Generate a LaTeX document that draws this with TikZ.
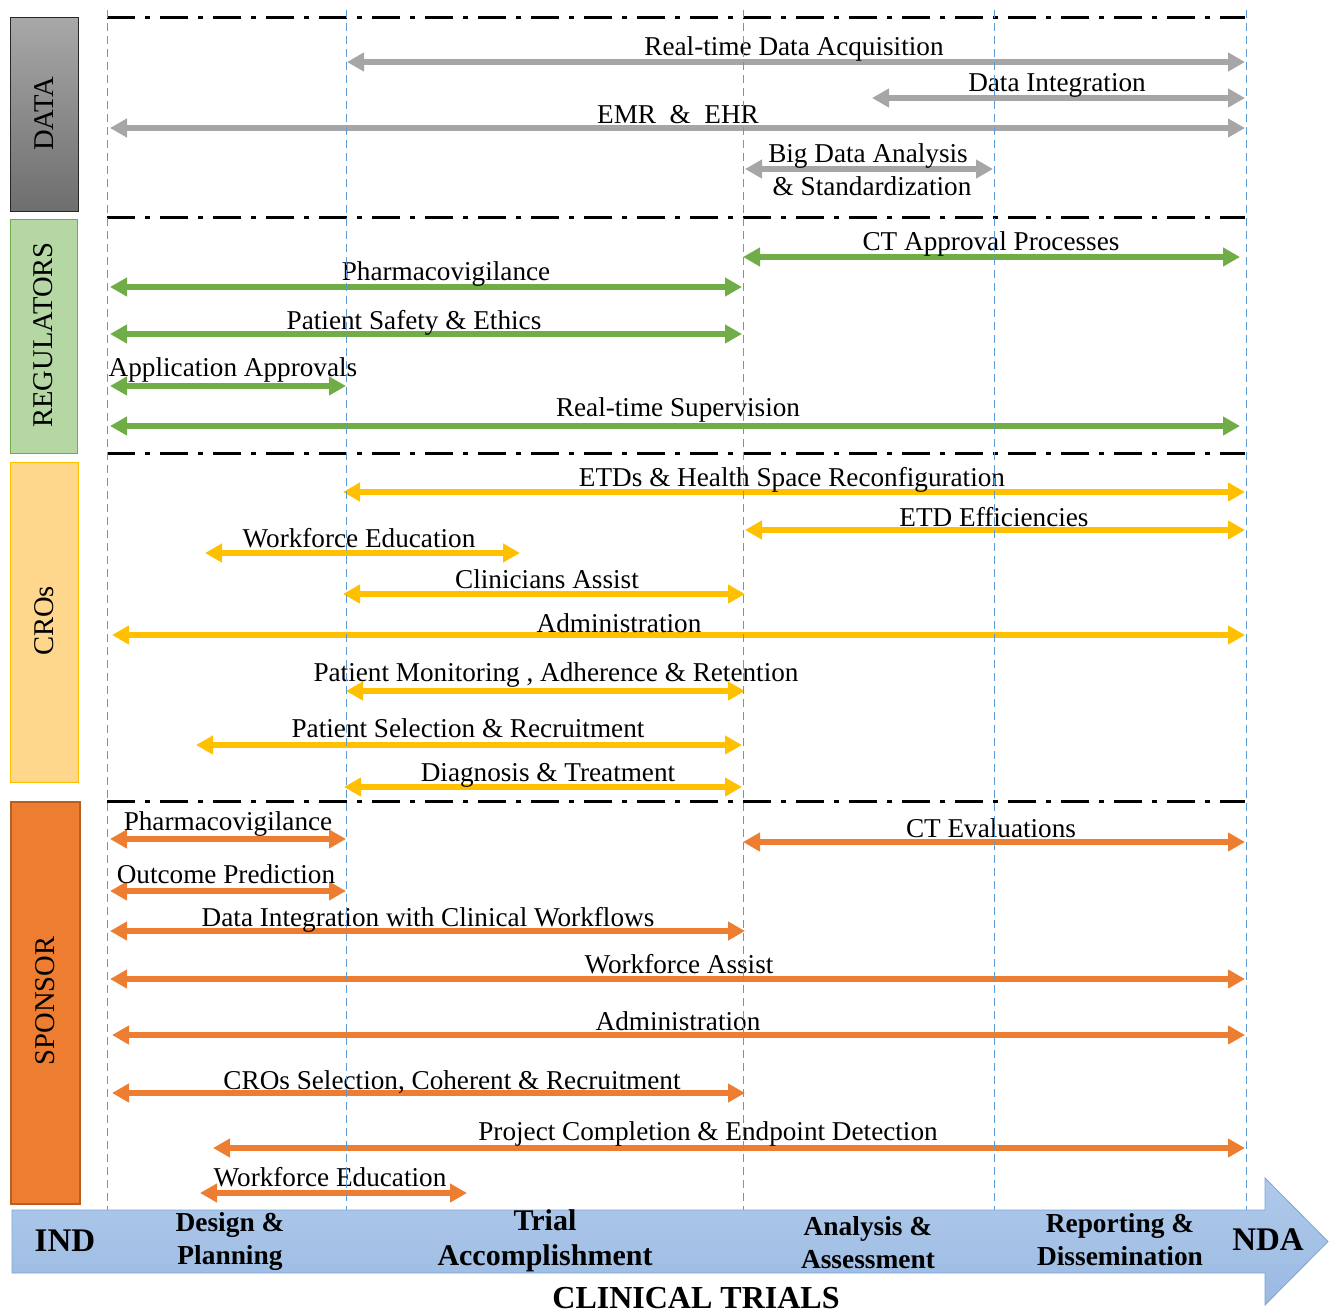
\documentclass[tikz,border=0pt]{standalone}
\usepackage{fontspec}
\setmainfont{Liberation Serif}
\usetikzlibrary{arrows.meta}

\definecolor{datagray}{HTML}{A6A6A6}
\definecolor{datatop}{HTML}{A8A8A8}
\definecolor{databot}{HTML}{6E6E6E}
\definecolor{reggreen}{HTML}{70AD47}
\definecolor{regfill}{HTML}{B5D7A3}
\definecolor{croyellow}{HTML}{FFC000}
\definecolor{crofill}{HTML}{FED68C}
\definecolor{sponorange}{HTML}{ED7D31}
\definecolor{sponedge}{HTML}{B75E22}
\definecolor{phaseblue}{HTML}{5B9BD5}
\definecolor{bartop}{HTML}{AFC9EA}
\definecolor{barbot}{HTML}{9BBAE2}
\definecolor{baredge}{HTML}{7BA6D9}

\begin{document}
\begin{tikzpicture}[x=0.5pt, y=-0.5pt, font=\fontsize{13.6}{15}\selectfont]
  \tikzstyle{span}=[line width=3pt, {Triangle[length=8.5pt,width=9pt]}-{Triangle[length=8.5pt,width=9pt]}]
  \tikzstyle{lbl}=[inner sep=0pt, anchor=mid, yshift=-2.5pt]
  \tikzstyle{side}=[rotate=90, inner sep=0pt, font=\fontsize{14.3}{16}\selectfont]
  \tikzstyle{sep}=[line width=1.5pt, dash pattern=on 14pt off 5pt on 2.5pt off 5pt]
  \tikzstyle{phase}=[phaseblue, line width=0.5pt, dash pattern=on 4pt off 2.5pt]
  \tikzstyle{stage}=[align=center, inner sep=0pt, font=\bfseries\fontsize{13.7}{16.5}\selectfont]
  \useasboundingbox (0,0) rectangle (1335,1313);

  % side boxes
  \draw[draw=black!85, top color=datatop, bottom color=databot] (10,17) rectangle (78,211);
  \node[side] (dataside) at (44,114) {DATA};
  \draw[draw=reggreen, fill=regfill] (10,219) rectangle (77,453);
  \node[side] (regside) at (43.5,335) {REGULATORS};
  \draw[draw=croyellow, fill=crofill] (10,462) rectangle (78,782);
  \node[side] (croside) at (44,621) {CROs};
  \draw[draw=sponedge, fill=sponorange, line width=1pt] (11,802) rectangle (80,1204);
  \node[side] (sponside) at (45.5,1001) {SPONSOR};

  % separators
  \foreach \y in {17,217,453,801}
    \draw[sep] (107,\y) -- (1245,\y);

  % DATA
  \foreach \xa/\xb/\y/\lx/\ly/\txt [count=\n] in {
      347/1245/62/794/46/Real-time Data Acquisition,
      872/1245/98/1057/82/Data Integration,
      110/1245/128/678/114/EMR \ \& \ EHR,
      745/993/169/868/153/Big Data Analysis} {
    \coordinate (data-\n-w) at (\xa,\y);
    \coordinate (data-\n-e) at (\xb,\y);
    \draw[span, datagray] (data-\n-w) -- (data-\n-e);
    \node[lbl] (data-\n) at (\lx,\ly) {\txt};
  }
  \node[lbl] (data-4b) at (872,186) {\& Standardization};

  % REGULATORS
  \foreach \xa/\xb/\y/\lx/\ly/\txt [count=\n] in {
      743/1240/257/991/241/CT Approval Processes,
      110/742/287/446/271/Pharmacovigilance,
      110/742/334/414/320/Patient Safety \& Ethics,
      110/346/386/233/367/Application Approvals,
      110/1240/426/678/407/Real-time Supervision} {
    \coordinate (reg-\n-w) at (\xa,\y);
    \coordinate (reg-\n-e) at (\xb,\y);
    \draw[span, reggreen] (reg-\n-w) -- (reg-\n-e);
    \node[lbl] (reg-\n) at (\lx,\ly) {\txt};
  }

  % CROs
  \foreach \xa/\xb/\y/\lx/\ly/\txt [count=\n] in {
      343/1245/492/792/477/ETDs \& Health Space Reconfiguration,
      745/1245/530/994/517/ETD Efficiencies,
      205/520/553/359/538/Workforce Education,
      343/745/594/547/579/Clinicians Assist,
      112/1245/635/619/623/Administration,
      346/745/691/556/672/{Patient Monitoring , Adherence \& Retention},
      196/742/745/468/728/Patient Selection \& Recruitment,
      344/742/787/548/772/Diagnosis \& Treatment} {
    \coordinate (cro-\n-w) at (\xa,\y);
    \coordinate (cro-\n-e) at (\xb,\y);
    \draw[span, croyellow] (cro-\n-w) -- (cro-\n-e);
    \node[lbl] (cro-\n) at (\lx,\ly) {\txt};
  }

  % SPONSOR
  \foreach \xa/\xb/\y/\lx/\ly/\txt [count=\n] in {
      110/346/839/228/821/Pharmacovigilance,
      743/1245/842/991/828/CT Evaluations,
      110/346/891/226/874/Outcome Prediction,
      110/745/931/428/917/Data Integration with Clinical Workflows,
      110/1245/979/679/964/Workforce Assist,
      112/1245/1035/678/1021/Administration,
      112/745/1093/452/1080/{CROs Selection, Coherent \& Recruitment},
      213/1245/1148/708/1131/Project Completion \& Endpoint Detection,
      200/467/1193/330/1177/Workforce Education} {
    \coordinate (spon-\n-w) at (\xa,\y);
    \coordinate (spon-\n-e) at (\xb,\y);
    \draw[span, sponorange] (spon-\n-w) -- (spon-\n-e);
    \node[lbl] (spon-\n) at (\lx,\ly) {\txt};
  }

  % phase borders
  \foreach \x in {107,346,743,994,1246}
    \draw[phase] (\x,10) -- (\x,1210);

  % timeline
  \draw[draw=baredge, top color=bartop, bottom color=barbot]
    (12,1210) -- (1265,1210) -- (1265,1178) -- (1328,1241.5)
    -- (1265,1305) -- (1265,1273) -- (12,1273) -- cycle;
  \node[stage, font=\bfseries\fontsize{16.5}{18}\selectfont] (ind) at (65,1241) {IND};
  \node[stage] (design) at (230,1242) {Design \&\\Planning};
  \node[stage, font=\bfseries\fontsize{15}{17.5}\selectfont] (trial) at (545,1241) {Trial\\Accomplishment};
  \node[stage] (analysis) at (868,1243) {Analysis \&\\Assessment};
  \node[stage] (reporting) at (1120,1240) {Reporting \&\\Dissemination};
  \node[stage, font=\bfseries\fontsize{16.5}{18}\selectfont] (nda) at (1268,1240) {NDA};
  \node[stage, font=\bfseries\fontsize{16}{18}\selectfont] (title) at (696,1298) {CLINICAL TRIALS};
\end{tikzpicture}
\end{document}
